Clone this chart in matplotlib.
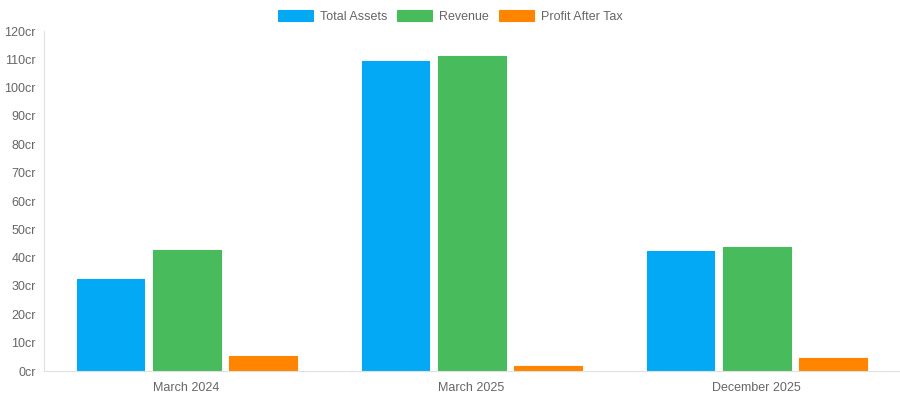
import numpy as np
import matplotlib.pyplot as plt

periods = ["March 2024", "March 2025", "December 2025"]
total_assets = [32.5, 109.4, 42.4]
revenue = [42.7, 111.2, 43.8]
profit_after_tax = [5.3, 1.8, 4.6]
y_ticks = list(range(0, 130, 10))
y_labels = [f"{t}cr" for t in y_ticks]

plt.rcParams['font.family'] = ['Liberation Sans', 'DejaVu Sans']

fig = plt.figure(figsize=(9, 4), dpi=100)
ax = fig.add_axes([0.049, 0.0725, 0.95, 0.85])

x = np.arange(len(periods))
pitch = 0.267
width = 0.238
series = [
    ("Total Assets", total_assets, "#03A9F4"),
    ("Revenue", revenue, "#48BC5C"),
    ("Profit After Tax", profit_after_tax, "#FF8400"),
]
for i, (name, vals, col) in enumerate(series):
    ax.bar(x + (i - 1) * pitch, vals, width, color=col, label=name,
           edgecolor=col, linewidth=0.8, joinstyle='round')

ax.set_xlim(-0.5, 2.5)
ax.set_ylim(0, 120)
ax.set_yticks(y_ticks)
ax.set_yticklabels(y_labels)
ax.set_xticks(x)
ax.set_xticklabels(periods)
ax.tick_params(axis='both', length=0, labelsize=9, colors="#666666", pad=6)
ax.tick_params(axis='x', pad=8)

for s in ["top", "right"]:
    ax.spines[s].set_visible(False)
ax.spines["left"].set_color("#e0e0e0")
ax.spines["bottom"].set_color("#e0e0e0")

fig.legend(loc="upper center", bbox_to_anchor=(0.5, 1.003), ncol=3, frameon=False,
           fontsize=9, handlelength=2.8, handleheight=1.0, handletextpad=0.55,
           columnspacing=0.8, labelcolor="#666666")

fig.savefig("out.png", dpi=100)
